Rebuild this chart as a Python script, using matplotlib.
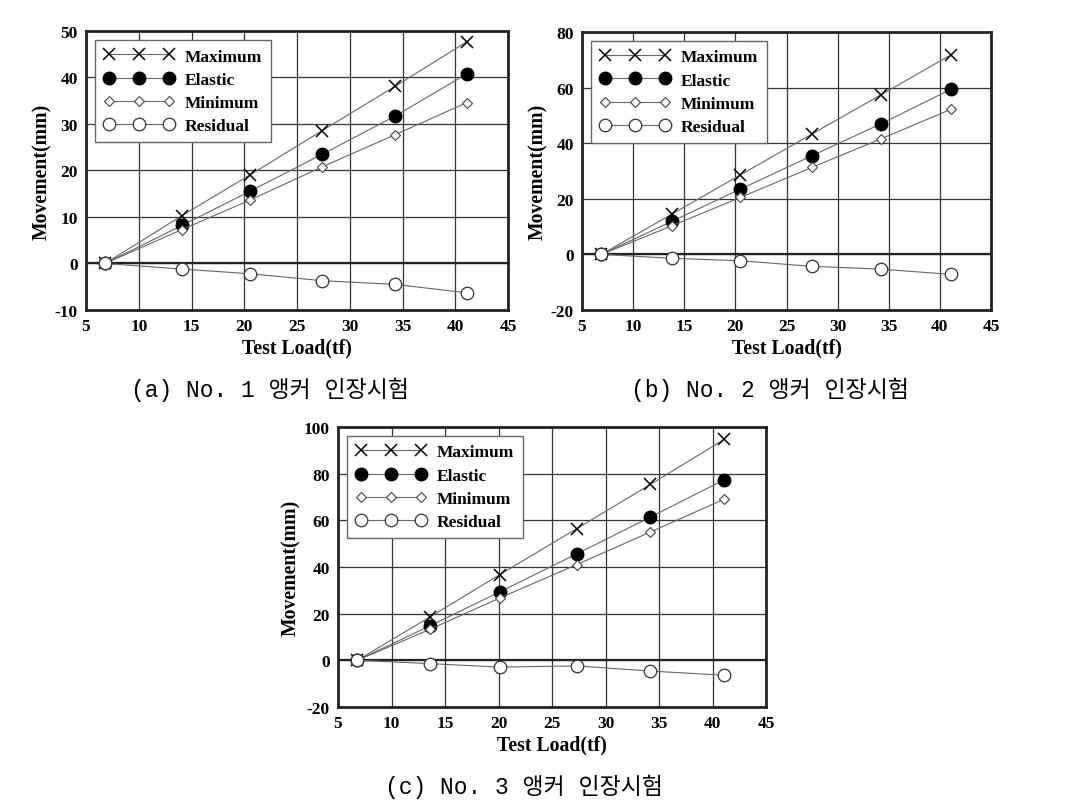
import matplotlib
matplotlib.use('Agg')
import matplotlib.pyplot as plt

plt.rcParams['font.family'] = ['Liberation Serif', 'DejaVu Serif']
plt.rcParams['axes.unicode_minus'] = False

# 인장시험 데이터 (하중 tf, 변위 mm)
load_a = [6.8, 14.1, 20.5, 27.4, 34.3, 41.1]
max_a = [0, 10.3, 19.0, 28.6, 38.1, 47.7]
ela_a = [0, 8.2, 15.5, 23.5, 31.7, 40.8]
min_a = [0, 7.3, 13.6, 20.8, 27.7, 34.6]
res_a = [0, -1.2, -2.2, -3.7, -4.5, -6.3]

load_b = [6.9, 13.8, 20.5, 27.5, 34.2, 41.1]
max_b = [0, 14.5, 28.6, 43.3, 57.3, 71.8]
ela_b = [0, 11.9, 23.5, 35.5, 46.9, 59.4]
min_b = [0, 10.3, 20.5, 31.3, 41.5, 52.2]
res_b = [0, -1.4, -2.3, -4.3, -5.3, -7.2]

load_c = [6.8, 13.6, 20.1, 27.3, 34.2, 41.1]
max_c = [0, 18.6, 36.7, 56.4, 75.4, 94.7]
ela_c = [0, 14.8, 29.3, 45.6, 61.4, 77.4]
min_c = [0, 13.3, 26.7, 41.0, 55.0, 69.1]
res_c = [0, -1.4, -2.9, -2.4, -4.6, -6.4]

labels = ['Maximum', 'Elastic', 'Minimum', 'Residual']
captions = ['(a) No. 1 앵커 인장시험', '(b) No. 2 앵커 인장시험', '(c) No. 3 앵커 인장시험']

fig = plt.figure(figsize=(10.65, 8.04), dpi=100)

panels = [
    ([0.0808, 0.6132, 0.3962, 0.3470], load_a, [max_a, ela_a, min_a, res_a], (-10, 50), 10),
    ([0.5465, 0.6132, 0.3840, 0.3458], load_b, [max_b, ela_b, min_b, res_b], (-20, 80), 20),
    ([0.3174, 0.1194, 0.4019, 0.3483], load_c, [max_c, ela_c, min_c, res_c], (-20, 100), 20),
]

styles = [
    dict(marker='x', ms=8, mec='black', mfc='none', mew=1.1),
    dict(marker='o', ms=9, mec='black', mfc='black'),
    dict(marker='D', ms=5, mec='#444444', mfc='white', mew=0.8),
    dict(marker='o', ms=9, mec='#333333', mfc='white', mew=0.9),
]

for pos, x, series, ylim, ystep in panels:
    ax = fig.add_axes(pos)
    ax.axhline(0, color='#222222', lw=1.6, zorder=1)
    for y, lab, st in zip(series, labels, styles):
        ax.plot(x, y, color='#666666', lw=0.8, label=lab, zorder=3, **st)
    ax.set_xlim(5, 45)
    ax.set_ylim(*ylim)
    ax.set_xticks(range(5, 46, 5))
    ax.set_yticks(range(ylim[0], ylim[1] + 1, ystep))
    ax.grid(True, color='#333333', lw=0.9)
    ax.set_axisbelow(True)
    for s in ax.spines.values():
        s.set_linewidth(2.0)
        s.set_color('#222222')
    ax.tick_params(length=0, pad=6, labelsize=12.5)
    for t in ax.get_xticklabels() + ax.get_yticklabels():
        t.set_fontweight('bold')
    ax.set_xlabel('Test Load(tf)', fontsize=14.2, fontweight='bold', labelpad=2)
    ax.set_ylabel('Movement(mm)', fontsize=14.2, fontweight='bold', labelpad=2)
    leg = ax.legend(loc='upper left', numpoints=3, handlelength=4.1, handletextpad=0.6,
                    fancybox=False, framealpha=1, edgecolor='#666666',
                    prop={'family': 'Liberation Serif', 'weight': 'bold', 'size': 12.5},
                    borderaxespad=0.5, labelspacing=0.4, borderpad=0.5)
    leg.get_frame().set_linewidth(1.0)

cap_font = ['Liberation Mono', 'Noto Sans CJK KR']
fig.text(0.2535, 1 - 390 / 804, captions[0], ha='center', va='center', fontsize=16.5, family=cap_font)
fig.text(0.7230, 1 - 390 / 804, captions[1], ha='center', va='center', fontsize=16.5, family=cap_font)
fig.text(0.4920, 1 - 787 / 804, captions[2], ha='center', va='center', fontsize=16.5, family=cap_font)

fig.savefig('out.png', dpi=100, facecolor='white')
